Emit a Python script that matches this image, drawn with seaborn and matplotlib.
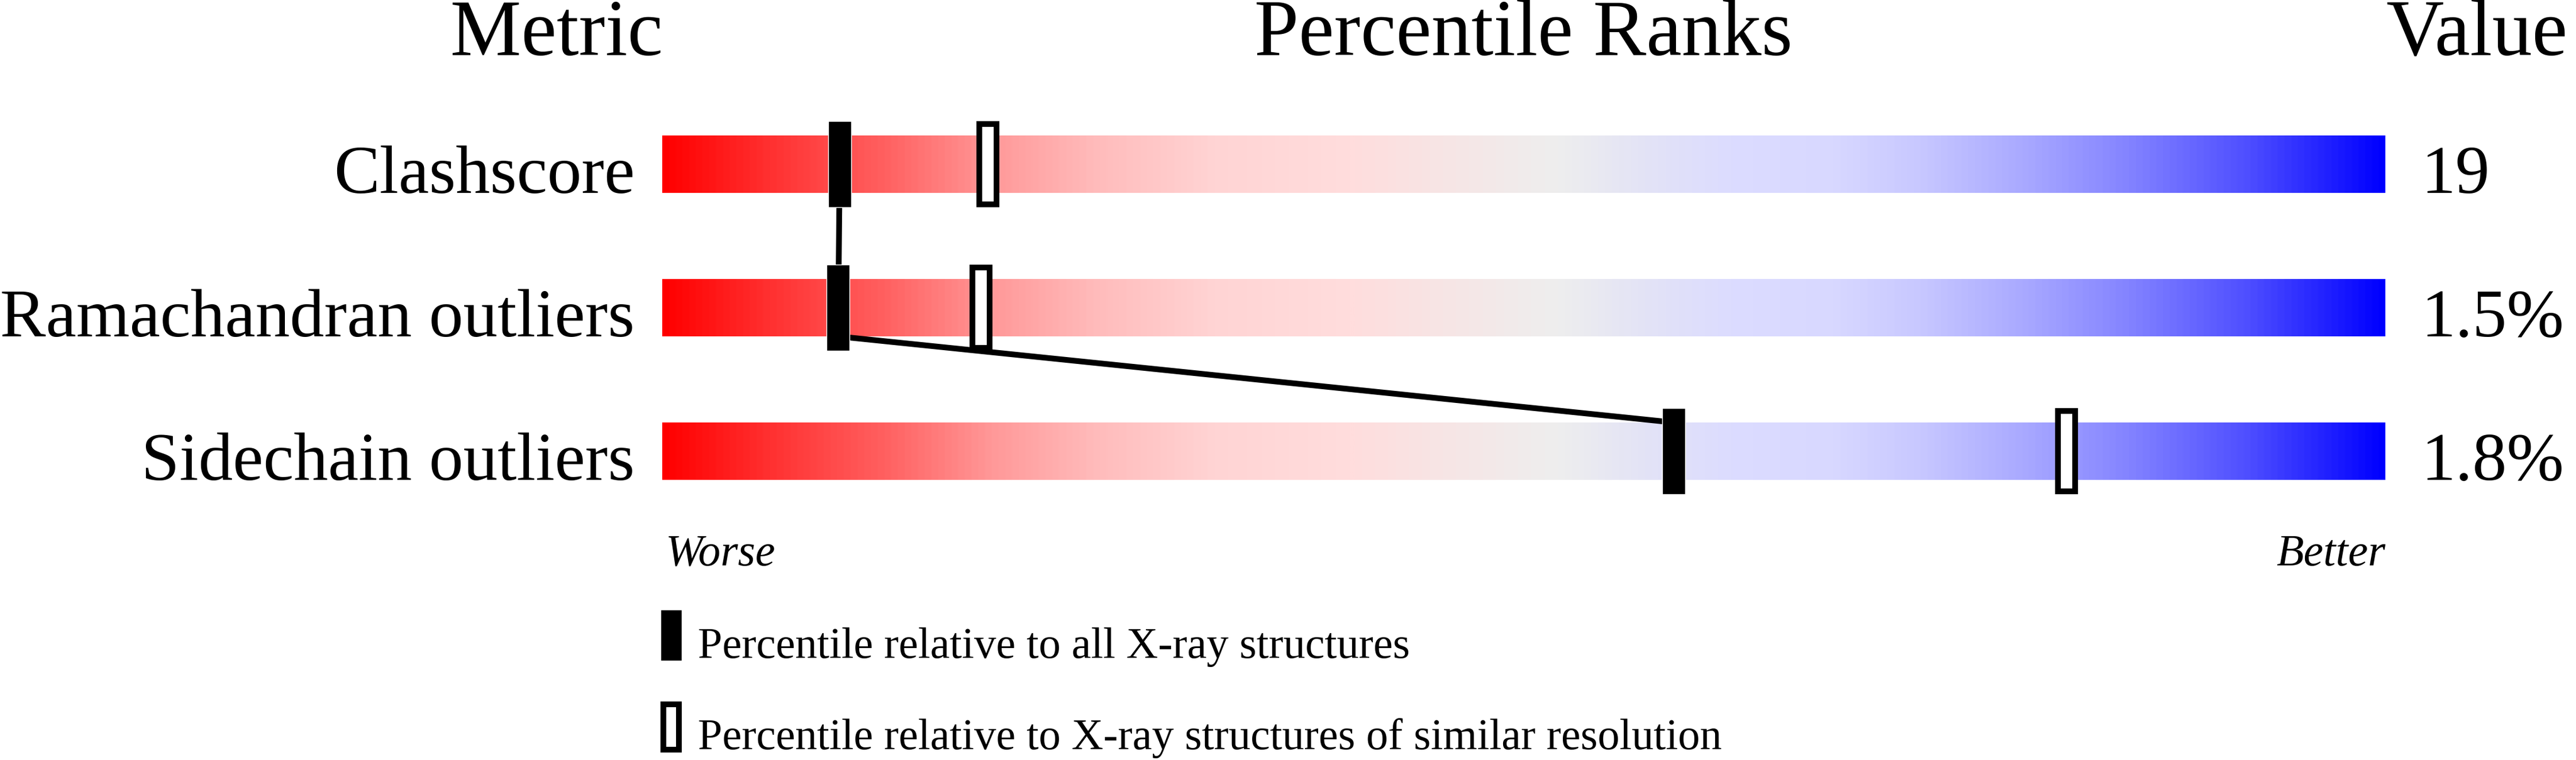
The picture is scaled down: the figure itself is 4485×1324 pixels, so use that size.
import numpy as np
import pandas as pd
import seaborn as sns
import matplotlib.pyplot as plt
from matplotlib.colors import LinearSegmentedColormap

# data
metrics = ['Clashscore', 'Ramachandran outliers', 'Sidechain outliers']
values = ['19', '1.5%', '1.8%']
pct_all = [10.3, 10.2, 58.7]        # percentile vs all X-ray structures (filled)
pct_similar = [18.9, 18.5, 81.5]    # percentile vs similar resolution (open)
link_offset = [0.0, 0.2, -0.2]      # where the joining line meets each row

legend_labels = ['Percentile relative to all X-ray structures',
                 'Percentile relative to X-ray structures of similar resolution']

sns.set_theme(style='white')
plt.rcParams['font.family'] = ['Liberation Serif', 'DejaVu Serif']
plt.rcParams['text.color'] = 'black'

W, H = 4485, 1324
fig = plt.figure(figsize=(W / 100, H / 100), dpi=100)
fig.patch.set_facecolor('white')

# axes: x = percentile 0..100, y = metric rows
ax = fig.add_axes([1153 / W, 1 - 911 / H, 3000 / W, 750 / H])
ax.set_facecolor('white')

df = pd.DataFrame({'metric': metrics, 'full': [100] * len(metrics)})
sns.barplot(data=df, x='full', y='metric', orient='h', width=0.4,
            color='white', ax=ax)

stops = [(0.00, '#FF0000'), (0.06, '#FF3030'), (0.13, '#FF6262'),
         (0.19, '#FF9898'), (0.25, '#FFBBBB'), (0.32, '#FFD4D4'),
         (0.40, '#FFDDDD'), (0.46, '#F6E6E6'), (0.52, '#EEEEEE'),
         (0.57, '#E3E3F6'), (0.62, '#DCDCFF'), (0.68, '#D8D8FF'),
         (0.73, '#C8C8FF'), (0.79, '#AAAAFF'), (0.85, '#8585FF'),
         (0.92, '#5050FF'), (1.00, '#0000FF')]
cmap = LinearSegmentedColormap.from_list('slider', stops)
grad = np.linspace(0, 1, 1024).reshape(1, -1)
for patch in ax.patches:
    im = ax.imshow(grad, cmap=cmap, aspect='auto', interpolation='bilinear',
                   extent=[0, 100, 2.5, -0.5], zorder=1)
    im.set_clip_path(patch)

rows = np.arange(len(metrics))

# joining line between the filled markers
ax.plot(pct_all, rows + np.array(link_offset), color='black', lw=7.2,
        zorder=3, solid_joinstyle='miter')

# filled markers
ax.barh(rows, width=1.33, left=np.array(pct_all) - 1.33 / 2, height=0.6,
        color='black', zorder=4)
# open markers
ax.barh(rows, width=0.97, left=np.array(pct_similar) - 0.97 / 2, height=0.56,
        facecolor='white', edgecolor='black', linewidth=7.2, zorder=4,
        joinstyle='miter')

ax.set_xlim(0, 100)
ax.set_ylim(2.5, -0.5)
ax.axis('off')

# row labels and values
for i, (m, v) in enumerate(zip(metrics, values)):
    ax.text(-1.6, i + 0.2, m, ha='right', va='baseline', fontsize=86)
    ax.text(102.07, i + 0.2, v, ha='left', va='baseline', fontsize=86)

ax.text(0.2, 2.796, 'Worse', ha='left', va='baseline', fontsize=56,
        style='italic')
ax.text(100, 2.796, 'Better', ha='right', va='baseline', fontsize=56,
        style='italic')

# legend
ax.bar([0.517], [0.356], width=1.23, bottom=3.282 - 0.178, color='black',
       clip_on=False)
ax.bar([0.517], [0.316], width=0.9, bottom=3.922 - 0.158, facecolor='white',
       edgecolor='black', linewidth=7.2, clip_on=False, joinstyle='miter')
ax.text(2.07, 3.44, legend_labels[0], ha='left', va='baseline', fontsize=55)
ax.text(2.07, 4.076, legend_labels[1], ha='left', va='baseline', fontsize=55)

# column titles
fig.text(969 / W, 1 - 96 / H, 'Metric', ha='center', va='baseline', fontsize=100)
fig.text(2652 / W, 1 - 96 / H, 'Percentile Ranks', ha='center', va='baseline',
         fontsize=100)
fig.text(4155 / W, 1 - 96 / H, 'Value', ha='left', va='baseline', fontsize=100)

fig.savefig('out.png', dpi=100, facecolor='white')
